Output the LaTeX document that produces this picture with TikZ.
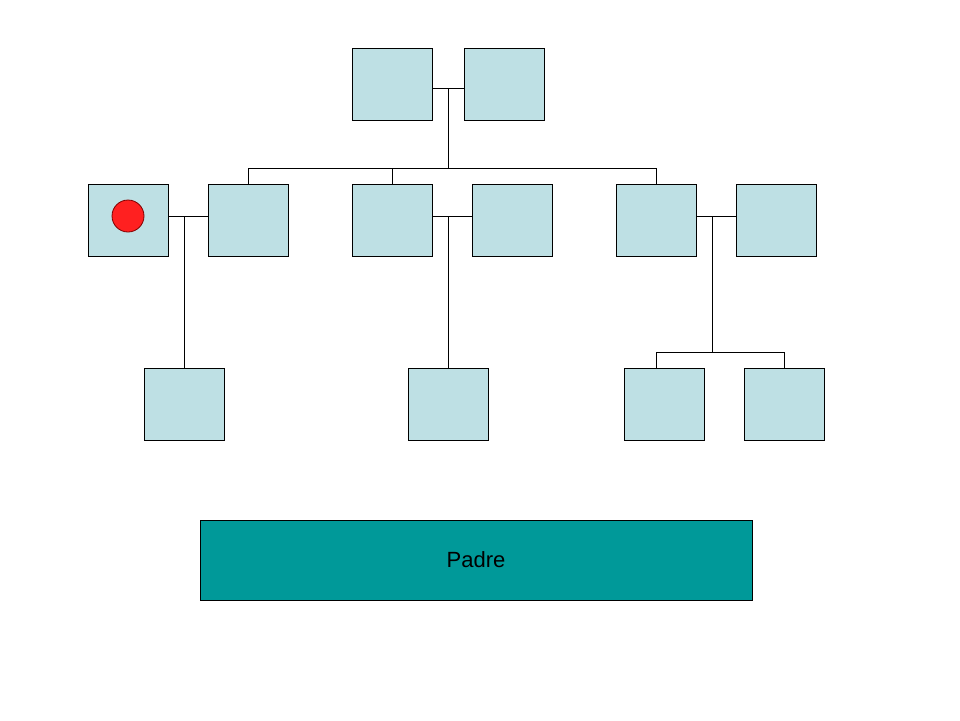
\documentclass[tikz,border=0pt]{standalone}
\usepackage{fontspec}
\setmainfont{Liberation Sans}
\definecolor{boxfill}{HTML}{BEE0E4}
\definecolor{padrefill}{HTML}{009999}
\definecolor{dotred}{HTML}{FF2020}
\definecolor{dotline}{HTML}{800000}
\begin{document}
\begin{tikzpicture}[x=1pt,y=-1pt,
  person/.style={draw=black,fill=boxfill,line width=1pt,minimum width=80pt,minimum height=72pt,inner sep=0pt,outer sep=0pt},
  link/.style={draw=black,line width=1pt}]
\useasboundingbox (0,0) rectangle (960,720);
% generation 1
\node[person] (g1a) at (392,84) {};
\node[person] (g1b) at (504,84) {};
% generation 2
\node[person] (p1) at (128,220) {};
\node[person] (p2) at (248,220) {};
\node[person] (p3) at (392,220) {};
\node[person] (p4) at (512,220) {};
\node[person] (p5) at (656,220) {};
\node[person] (p6) at (776,220) {};
% generation 3
\node[person] (c1) at (184,404) {};
\node[person] (c2) at (448,404) {};
\node[person] (c3) at (664,404) {};
\node[person] (c4) at (784,404) {};
% marker
\node[circle,draw=dotline,fill=dotred,line width=0.8pt,minimum size=32pt,inner sep=0pt] (dot) at (128,216) {};
% Padre
\node[draw=black,fill=padrefill,line width=1pt,minimum width=552pt,minimum height=80pt,inner sep=0pt,font=\fontsize{22}{26}\selectfont] (padre) at (476,560) {Padre};
% junction coordinates
\coordinate (m1) at (448,88);
\coordinate (s1) at (448,168);
\coordinate (m2) at (184,216);
\coordinate (m3) at (448,216);
\coordinate (m4) at (712,216);
\coordinate (s4) at (712,352);
\coordinate (d3) at (656,352);
\coordinate (e3) at (656,368);
% connectors
\draw[link] (g1a.east |- m1) -- (g1b.west |- m1);
\draw[link] (m1) -- (s1);
\draw[link] (p2.north |- s1) -- (p5.north |- s1);
\draw[link] (p2.north |- s1) -- (p2.north);
\draw[link] (p3.north |- s1) -- (p3.north);
\draw[link] (p5.north |- s1) -- (p5.north);
\draw[link] (p1.east |- m2) -- (p2.west |- m2);
\draw[link] (m2) -- (c1.north);
\draw[link] (p3.east |- m3) -- (p4.west |- m3);
\draw[link] (m3) -- (c2.north);
\draw[link] (p5.east |- m4) -- (p6.west |- m4);
\draw[link] (m4) -- (s4);
\draw[link] (d3) -- (c4.north |- s4);
\draw[link] (d3) -- (e3);
\draw[link] (c4.north |- s4) -- (c4.north);
\end{tikzpicture}
\end{document}
